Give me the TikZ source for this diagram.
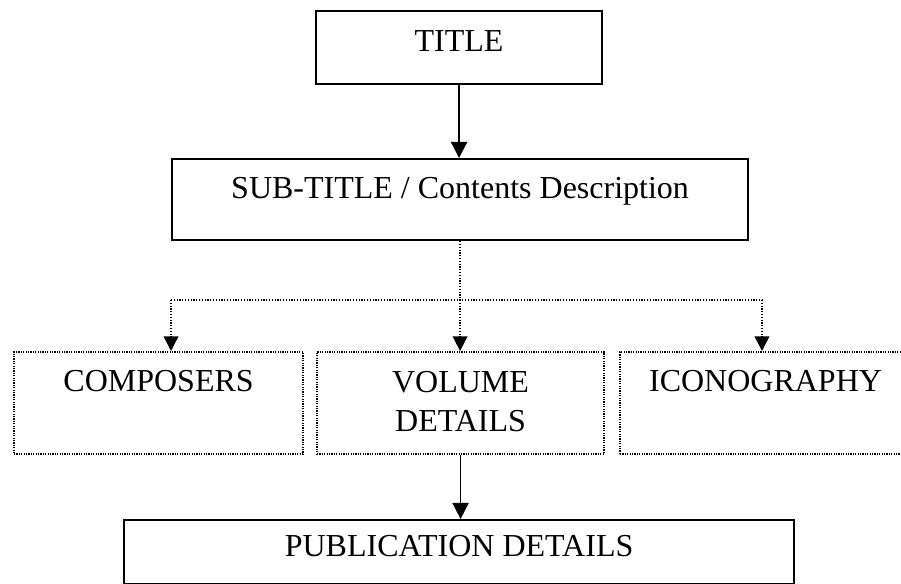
\documentclass[tikz,border=0pt]{standalone}
\usepackage{fontspec}
\setmainfont{Liberation Serif}
\usetikzlibrary{arrows.meta}
\usetikzlibrary{positioning}
\tikzset{every picture/.style={line width=1.3pt}}

\begin{document}
\begin{tikzpicture}[x=1pt,y=-1pt,
bx/.style={draw,line width=1.6pt,anchor=north west,inner sep=0pt,align=center,font=\fontsize{24pt}{29.25pt}\selectfont},
dbx/.style={bx,line width=1.6pt,dash pattern=on 0.9pt off 0.9pt},
arr/.style={-{Triangle[width=12pt,length=12pt]}},
dl/.style={line width=1.2pt,dash pattern=on 0.9pt off 1.2pt},
darr/.style={dl,-{Triangle[width=11pt,length=11pt]}}]
\useasboundingbox (0,0) rectangle (675.75,438);
\clip (0,0) rectangle (675.75,438);
\node (ttl) [bx,minimum width=214.5pt,text height=30pt,text depth=24.75pt] at (236.25,7.5) {TITLE};
\node (sub) [bx,minimum width=432pt,text height=29.25pt,text depth=31.5pt] at (128.25,118.5) {SUB-TITLE / Contents Description};
\node (comp) [dbx,minimum width=216.75pt,text height=29.25pt,text depth=47.25pt] at (9.75,263.25) {COMPOSERS};
\node (vol) [dbx,minimum width=215.25pt,text height=59.25pt,text depth=17.25pt] at (237,263.25) {VOLUME\\DETAILS};
\node (icon) [dbx,minimum width=218.25pt,text height=29.25pt,text depth=47.25pt] at (464.25,263.25) {ICONOGRAPHY};
\node (pub) [bx,minimum width=502.5pt,text height=27pt,text depth=21pt] at (92.25,389.25) {PUBLICATION DETAILS};
\coordinate (jl) at (128.25,225);
\coordinate (jr) at (571.5,225);
\draw[arr] (ttl.south) -- (ttl.south |- sub.north);
\draw[dl] (sub.south) -- (sub.south |- jl);
\draw[dl] (jl) -- (jr);
\draw[darr] (jl) -- (jl |- comp.north);
\draw[darr] (sub.south |- jl) -- (sub.south |- vol.north);
\draw[darr] (jr) -- (jr |- icon.north);
\draw[arr] (vol.south) -- (vol.south |- pub.north);
\end{tikzpicture}
\end{document}
